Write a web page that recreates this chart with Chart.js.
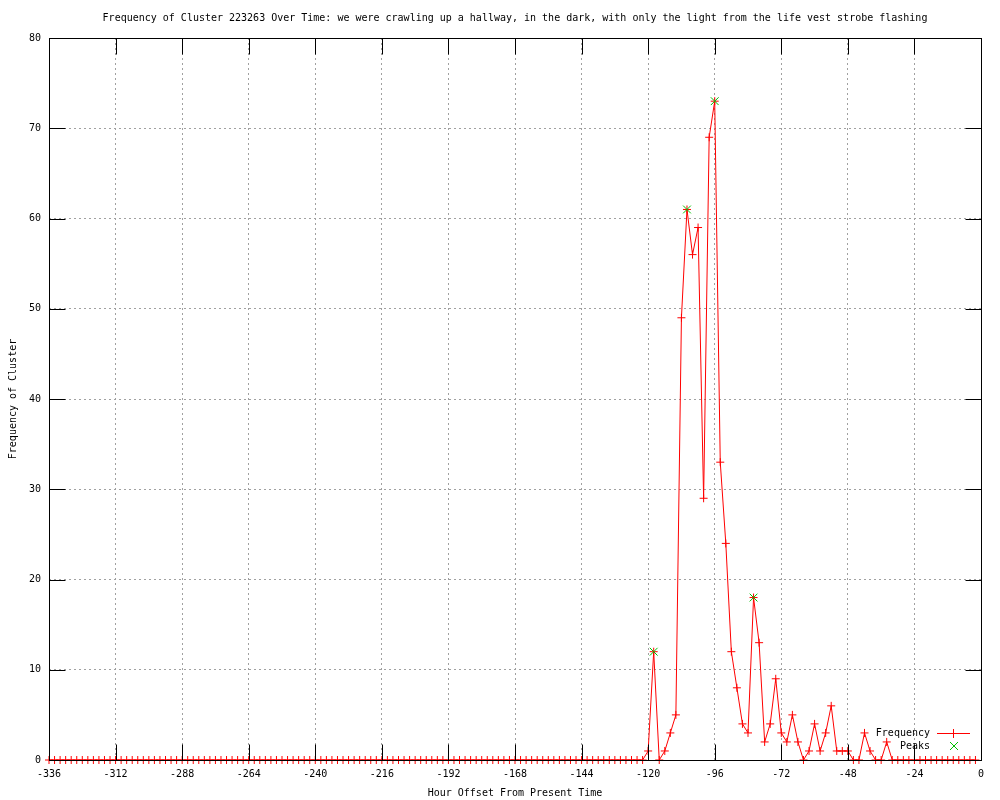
<!DOCTYPE html>
<html>
<head>
<meta charset="utf-8">
<script src="https://cdn.jsdelivr.net/npm/chart.js@4.4.1/dist/chart.umd.min.js"></script>
<style>
html,body{margin:0;padding:0;background:#ffffff;}
#wrap{width:1000px;height:800px;}
</style>
</head>
<body>
<div id="wrap"><canvas id="c" width="1000" height="800"></canvas></div>
<script>
const chartTitle = "Frequency of Cluster 223263 Over Time: we were crawling up a hallway, in the dark, with only the light from the life vest strobe flashing";
const xAxisTitle = "Hour Offset From Present Time";
const yAxisTitle = "Frequency of Cluster";
const legendLabels = ["Frequency", "Peaks"];

const hours = [
  -336,-334,-332,-330,-328,-326,-324,-322,-320,-318,-316,-314,
  -312,-310,-308,-306,-304,-302,-300,-298,-296,-294,-292,-290,
  -288,-286,-284,-282,-280,-278,-276,-274,-272,-270,-268,-266,
  -264,-262,-260,-258,-256,-254,-252,-250,-248,-246,-244,-242,
  -240,-238,-236,-234,-232,-230,-228,-226,-224,-222,-220,-218,
  -216,-214,-212,-210,-208,-206,-204,-202,-200,-198,-196,-194,
  -192,-190,-188,-186,-184,-182,-180,-178,-176,-174,-172,-170,
  -168,-166,-164,-162,-160,-158,-156,-154,-152,-150,-148,-146,
  -144,-142,-140,-138,-136,-134,-132,-130,-128,-126,-124,-122,
  -120,-118,-116,-114,-112,-110,-108,-106,-104,-102,-100,-98,
  -96,-94,-92,-90,-88,-86,-84,-82,-80,-78,-76,-74,
  -72,-70,-68,-66,-64,-62,-60,-58,-56,-54,-52,-50,
  -48,-46,-44,-42,-40,-38,-36,-34,-32,-30,-28,-26,
  -24,-22,-20,-18,-16,-14,-12,-10,-8,-6,-4,-2
];
const frequency = [
  0,0,0,0,0,0,0,0,0,0,0,0,
  0,0,0,0,0,0,0,0,0,0,0,0,
  0,0,0,0,0,0,0,0,0,0,0,0,
  0,0,0,0,0,0,0,0,0,0,0,0,
  0,0,0,0,0,0,0,0,0,0,0,0,
  0,0,0,0,0,0,0,0,0,0,0,0,
  0,0,0,0,0,0,0,0,0,0,0,0,
  0,0,0,0,0,0,0,0,0,0,0,0,
  0,0,0,0,0,0,0,0,0,0,0,0,
  1,12,0,1,3,5,49,61,56,59,29,69,
  73,33,24,12,8,4,3,18,13,2,4,9,
  3,2,5,2,0,1,4,1,3,6,1,1,
  1,0,0,3,1,0,0,2,0,0,0,0,
  0,0,0,0,0,0,0,0,0,0,0,0
];
const peakHours = [-118, -106, -96, -82];
const peakValues = [12, 61, 73, 18];

const xMin = -336, xMax = 0, xStep = 24;
const yMin = 0, yMax = 80, yStep = 10;

const FONT = "'DejaVu Sans Mono', 'Liberation Mono', monospace";
Chart.defaults.font.family = FONT;
Chart.defaults.font.size = 10;
Chart.defaults.color = '#000000';

const RED = '#ff0000';
const GREEN = '#00c000';

const framePlugin = {
  id: 'frame',
  afterDatasetsDraw(chart) {
    const ctx = chart.ctx;
    const a = chart.chartArea;
    const L = Math.round(a.left) + 0.5, R = Math.round(a.right) + 0.5;
    const T = Math.round(a.top) + 0.5, B = Math.round(a.bottom) + 0.5;
    const tl = 16;
    ctx.save();
    ctx.setLineDash([]);
    ctx.strokeStyle = '#000000';
    ctx.lineWidth = 1;
    ctx.beginPath();
    const xs = chart.scales.x, ys = chart.scales.y;
    xs.ticks.forEach(t => {
      const px = Math.round(xs.getPixelForValue(t.value)) + 0.5;
      ctx.moveTo(px, B); ctx.lineTo(px, B - tl);
      ctx.moveTo(px, T); ctx.lineTo(px, T + tl);
    });
    ys.ticks.forEach(t => {
      const py = Math.round(ys.getPixelForValue(t.value)) + 0.5;
      ctx.moveTo(L, py); ctx.lineTo(L + tl, py);
      ctx.moveTo(R, py); ctx.lineTo(R - tl, py);
    });
    ctx.stroke();
    ctx.strokeRect(L, T, R - L, B - T);
    ctx.restore();

    // title + legend
    ctx.save();
    ctx.setLineDash([]);
    ctx.font = '10px ' + FONT;
    ctx.fillStyle = '#000000';
    ctx.textAlign = 'center';
    ctx.textBaseline = 'middle';
    ctx.fillText(chartTitle, (a.left + a.right) / 2, 18);
    ctx.textAlign = 'right';
    ctx.fillText(legendLabels[0], 930, 733);
    ctx.fillText(legendLabels[1], 930, 746);
    ctx.lineWidth = 1;
    ctx.strokeStyle = 'rgb(255,0,0)';
    ctx.beginPath();
    ctx.moveTo(937, 733.5); ctx.lineTo(970, 733.5);
    ctx.moveTo(953.5, 729); ctx.lineTo(953.5, 738);
    ctx.stroke();
    ctx.strokeStyle = GREEN;
    ctx.beginPath();
    ctx.moveTo(950, 742); ctx.lineTo(958, 750);
    ctx.moveTo(958, 742); ctx.lineTo(950, 750);
    ctx.stroke();
    ctx.restore();
  }
};

const freqData = hours.map((h, i) => ({x: h, y: frequency[i]}));
const peakData = peakHours.map((h, i) => ({x: h, y: peakValues[i]}));

new Chart(document.getElementById('c'), {
  type: 'line',
  data: {
    datasets: [
      {
        label: legendLabels[0],
        data: freqData,
        borderColor: RED,
        backgroundColor: RED,
        borderWidth: 1,
        pointStyle: 'cross',
        pointRadius: 4,
        pointBorderWidth: 1,
        pointBorderColor: RED,
        tension: 0,
        fill: false,
        clip: false,
        order: 2
      },
      {
        label: legendLabels[1],
        data: peakData,
        showLine: false,
        borderColor: GREEN,
        backgroundColor: GREEN,
        pointStyle: 'crossRot',
        pointRadius: 5.5,
        pointBorderWidth: 1,
        pointBorderColor: GREEN,
        clip: false,
        order: 1
      }
    ]
  },
  options: {
    responsive: false,
    animation: false,
    events: [],
    layout: {padding: {left: 0, right: 19, top: 38, bottom: 0}},
    plugins: {
      legend: {display: false},
      title: {display: false},
      tooltip: {enabled: false}
    },
    scales: {
      x: {
        type: 'linear',
        min: xMin, max: xMax,
        afterFit(s) { s.height = 40; },
        ticks: {stepSize: xStep, padding: 8, maxRotation: 0, autoSkip: false, color: '#000', font: {size: 10}},
        grid: {color: '#a0a0a0', lineWidth: 1, drawTicks: false},
        border: {display: false, dash: [2, 3]},
        title: {display: true, text: xAxisTitle, color: '#000', font: {size: 10}, padding: {top: 0, bottom: 1}}
      },
      y: {
        type: 'linear',
        min: yMin, max: yMax,
        afterFit(s) { s.width = 49; },
        ticks: {stepSize: yStep, padding: 8, color: '#000', font: {size: 10}},
        grid: {color: '#a0a0a0', lineWidth: 1, drawTicks: false},
        border: {display: false, dash: [2, 3]},
        title: {display: true, text: yAxisTitle, color: '#000', font: {size: 10}, padding: {top: 7, bottom: 0}}
      }
    }
  },
  plugins: [framePlugin]
});
</script>
</body>
</html>
